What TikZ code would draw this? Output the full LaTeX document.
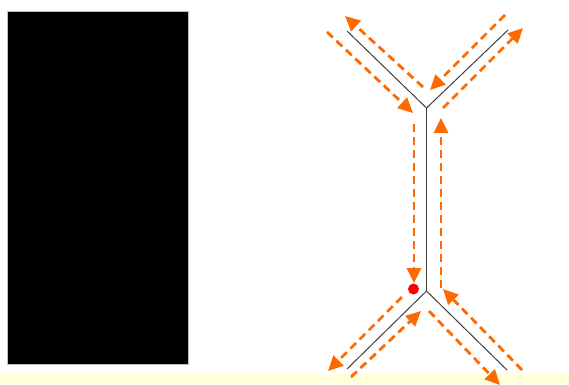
\documentclass[tikz,border=0pt]{standalone}
\usetikzlibrary{arrows.meta}
\definecolor{flow}{HTML}{FF6A00}
\definecolor{band}{HTML}{FFFFDC}
\definecolor{wire}{HTML}{404040}
\begin{document}
\begin{tikzpicture}[x=1pt,y=-1pt,
  wireline/.style={draw=wire,line width=1pt},
  flowarrow/.style={draw=flow,line width=2.8pt,dash pattern=on 8pt off 5pt,
    -{Triangle[length=15pt,width=14pt]}}]
\useasboundingbox (0,0) rectangle (569,384);
\fill[white] (0,0) rectangle (569,384);
\fill[band] (0,373) rectangle (569,384);
\draw[fill=black,draw=black!25,line width=0.8pt] (7,11) rectangle (188,364);
% wire
\coordinate (jt) at (426.5,108);
\coordinate (jb) at (426.5,291);
\coordinate (tl) at (347,31);
\coordinate (tr) at (508,30);
\coordinate (bl) at (347,369);
\coordinate (br) at (507,370);
\draw[wireline] (tl) -- (jt) -- (tr);
\draw[wireline] (jt) -- (jb);
\draw[wireline] (bl) -- (jb) -- (br);
% flow coordinates
\coordinate (a1s) at (327,32);  \coordinate (a1e) at (413,113);
\coordinate (v1s) at (414,124); \coordinate (v1e) at (414,283);
\coordinate (a2s) at (505,15);  \coordinate (a2e) at (430,90);
\coordinate (a3s) at (423,87);  \coordinate (a3e) at (345,16);
\coordinate (v2s) at (441,288); \coordinate (v2e) at (441,118);
\coordinate (a5s) at (443,108); \coordinate (a5e) at (523,28);
\coordinate (b1s) at (402,297); \coordinate (b1e) at (328,371);
\coordinate (b2s) at (351,377); \coordinate (b2e) at (421,311);
\coordinate (b3s) at (429,311); \coordinate (b3e) at (500,385);
\coordinate (b4s) at (522,370); \coordinate (b4e) at (443,289);
\begin{scope}
\clip (0,0) rectangle (569,384);
\foreach \s/\e in {a1s/a1e,v1s/v1e,a2s/a2e,a3s/a3e,v2s/v2e,a5s/a5e,b1s/b1e,b2s/b2e,b3s/b3e,b4s/b4e}
  \draw[flowarrow] (\s) -- (\e);
\end{scope}
\node[circle,fill=red,inner sep=0pt,minimum size=11pt] (dot) at (413.5,289) {};
\end{tikzpicture}
\end{document}
